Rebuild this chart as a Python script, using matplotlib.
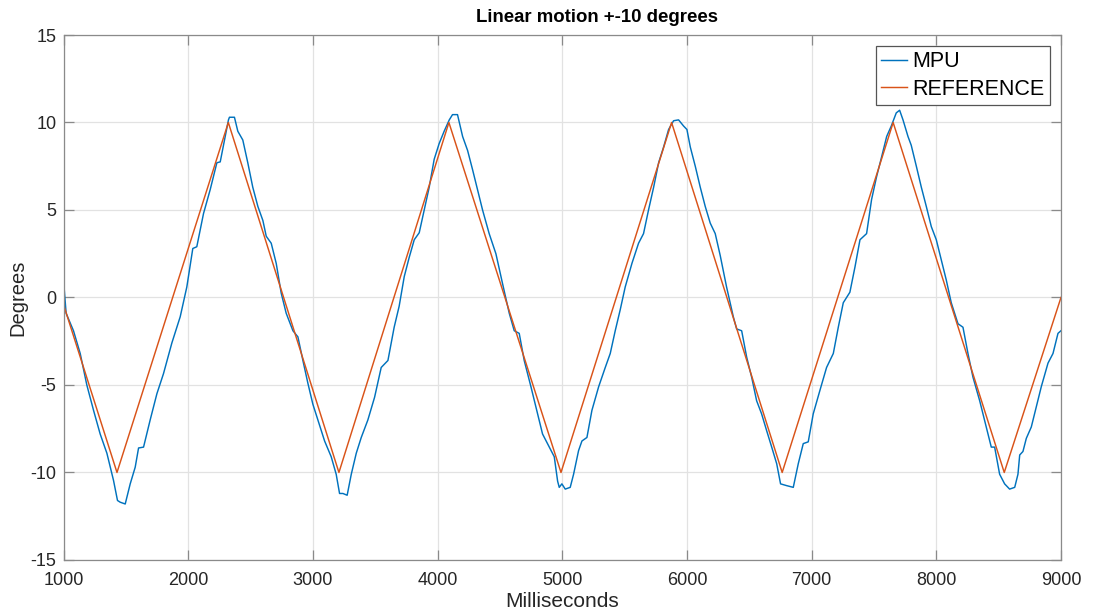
import matplotlib
matplotlib.use("Agg")
import matplotlib.pyplot as plt

# REFERENCE triangle wave (turning points)
ref_ms = [1000, 1429, 2322, 3209, 4091, 4990, 5877, 6764, 7654, 8545, 9000]
ref_deg = [-0.4, -10, 10, -10, 10, -10, 10, -10, 10, -10, 0.0]

# MPU trace
mpu_ms = [1000, 1021, 1080, 1134, 1187, 1241, 1294, 1348, 1401, 1433, 1455, 1495,
          1535, 1575, 1602, 1642, 1695, 1749, 1802, 1869, 1936, 1989, 2037, 2069,
          2123, 2176, 2230, 2257, 2297, 2323, 2331, 2371, 2398, 2438, 2478, 2518,
          2559, 2599, 2626, 2666, 2706, 2746, 2786, 2840, 2880, 2920, 2960, 3000,
          3040, 3094, 3147, 3187, 3214, 3241, 3275, 3308, 3348, 3388, 3441, 3495,
          3548, 3602, 3652, 3692, 3733, 3773, 3813, 3853, 3893, 3933, 3973, 4013,
          4053, 4094, 4120, 4160, 4201, 4241, 4281, 4321, 4361, 4414, 4468, 4521,
          4575, 4615, 4655, 4695, 4749, 4789, 4842, 4896, 4936, 4963, 4976, 4997,
          5024, 5064, 5091, 5131, 5158, 5198, 5238, 5292, 5345, 5385, 5425, 5465,
          5505, 5559, 5612, 5652, 5692, 5733, 5773, 5813, 5853, 5893, 5933, 5973,
          6000, 6027, 6067, 6107, 6147, 6187, 6227, 6267, 6318, 6372, 6399, 6439,
          6479, 6519, 6559, 6599, 6639, 6680, 6720, 6751, 6799, 6853, 6893, 6933,
          6973, 7013, 7067, 7120, 7174, 7214, 7254, 7307, 7348, 7388, 7441, 7481,
          7521, 7562, 7602, 7639, 7679, 7706, 7733, 7773, 7799, 7840, 7880, 7920,
          7960, 8000, 8040, 8080, 8120, 8174, 8214, 8254, 8294, 8348, 8401, 8441,
          8468, 8508, 8548, 8588, 8629, 8655, 8669, 8695, 8722, 8762, 8802, 8842,
          8896, 8936, 8976, 9000]
mpu_deg = [1.0, -0.9, -1.9, -3.2, -5.0, -6.45, -7.8, -8.9, -10.45, -11.6, -11.7, -11.8,
           -10.65, -9.7, -8.6, -8.55, -7.0, -5.5, -4.35, -2.6, -1.1, 0.6, 2.8, 2.9,
           4.8, 6.15, 7.7, 7.75, 9.2, 10.15, 10.3, 10.3, 9.5, 9.0, 7.7, 6.3,
           5.2, 4.4, 3.5, 3.1, 1.95, 0.25, -0.9, -1.9, -2.25, -3.6, -4.9, -6.1,
           -7.0, -8.2, -9.1, -10.1, -11.2, -11.2, -11.3, -10.1, -8.9, -8.0, -7.0, -5.7,
           -4.0, -3.6, -1.7, -0.5, 1.2, 2.3, 3.3, 3.7, 5.0, 6.3, 7.9, 8.8,
           9.5, 10.15, 10.45, 10.45, 9.2, 8.4, 7.3, 6.15, 5.0, 3.65, 2.5, 0.8,
           -0.9, -1.9, -2.05, -3.6, -5.1, -6.25, -7.8, -8.55, -9.1, -10.5, -10.85, -10.65,
           -10.95, -10.85, -10.1, -8.75, -8.2, -8.0, -6.45, -5.1, -4.0, -3.2, -1.9, -0.7,
           0.6, 1.95, 3.1, 3.65, 5.0, 6.3, 7.7, 8.6, 9.6, 10.1, 10.15, 9.8,
           9.6, 8.6, 7.5, 6.3, 5.2, 4.25, 3.65, 2.4, 0.6, -1.1, -1.8, -1.9,
           -3.4, -4.55, -5.9, -6.65, -7.6, -8.55, -9.5, -10.65, -10.75, -10.85, -9.5, -8.35,
           -8.25, -6.65, -5.3, -4.0, -3.2, -1.7, -0.3, 0.3, 1.75, 3.3, 3.65, 5.6,
           6.9, 8.05, 9.2, 9.8, 10.55, 10.7, 10.15, 9.2, 8.7, 7.5, 6.3, 5.2,
           4.05, 3.3, 2.15, 1.0, -0.3, -1.5, -1.7, -3.2, -4.55, -5.9, -7.4, -8.55,
           -8.55, -10.1, -10.65, -10.95, -10.85, -10.1, -9.0, -8.8, -8.05, -7.4, -6.25, -5.1,
           -3.75, -3.2, -2.05, -1.9]

x_ticks = [1000, 2000, 3000, 4000, 5000, 6000, 7000, 8000, 9000]
y_ticks = [-15, -10, -5, 0, 5, 10, 15]

plt.rcParams['font.family'] = ['Liberation Sans', 'DejaVu Sans']
plt.rcParams['axes.unicode_minus'] = False

fig = plt.figure(figsize=(10.93, 6.13), dpi=100)
ax = fig.add_axes([0.0581, 0.0865, 0.9126, 0.8564])

ax.plot(mpu_ms, mpu_deg, color='#0072BD', lw=1.05, label='MPU')
ax.plot(ref_ms, ref_deg, color='#D95319', lw=1.05, label='REFERENCE')

ax.set_xlim(1000, 9000)
ax.set_ylim(-15, 15)
ax.set_xticks(x_ticks)
ax.set_yticks(y_ticks)
ax.grid(True, color='#e2e2e2', lw=0.9)
ax.set_axisbelow(True)
for s in ax.spines.values():
    s.set_color('#8a8a8a')
    s.set_linewidth(0.9)
ax.tick_params(direction='in', length=7, width=0.9, color='#8a8a8a',
               top=True, right=True, labelsize=13, labelcolor='#262626')
ax.tick_params(axis='x', pad=9)
ax.tick_params(axis='y', pad=5)

fig.text(597 / 1093, 1 - 17 / 613, 'Linear motion +-10 degrees', fontsize=13.4,
         fontweight='bold', ha='center', va='center', color='#000000')
ax.set_xlabel('Milliseconds', fontsize=15, color='#262626', labelpad=2)
ax.set_ylabel('Degrees', fontsize=14.5, color='#262626', labelpad=2)

leg = ax.legend(loc='upper right', fontsize=15.5, frameon=True, fancybox=False,
                edgecolor='#555555', framealpha=1, borderpad=0.25, labelspacing=0.3,
                handlelength=1.2, handletextpad=0.25, borderaxespad=0.5)
leg.get_frame().set_linewidth(0.9)

fig.savefig('out.png', dpi=100)
